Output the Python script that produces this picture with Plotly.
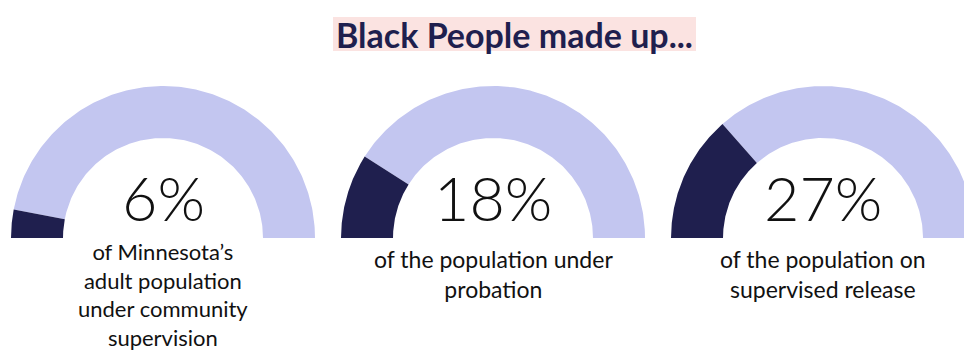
import numpy as np
import plotly.graph_objects as go

# Shares of each supervised population that are Black (percent)
shares = [6, 18, 27]
share_labels = ["6%", "18%", "27%"]
captions = [
    "of Minnesota’s<br>adult population<br>under community<br>supervision",
    "of the population under<br>probation",
    "of the population on<br>supervised release",
]
headline = "Black People made up..."

# Layout constants (canvas units = pixels, y measured upward)
W, H = 964, 352
CENTERS_X = [163, 493, 823]
BASE_Y = H - 238
R_OUT, R_IN = 152, 100
DARK = "#1f1f4e"
LIGHT = "#c3c6f0"
HIGHLIGHT = "#fbe3e1"
TEXT_FONT = "Lato"


def arc_band(cx, f0, f1, n=180):
    """Polygon of a half-ring band between fractions f0..f1 (0 = left end, 1 = right end)."""
    t = np.linspace(f0, f1, n)
    ang = np.pi * (1 - t)
    xo = cx + R_OUT * np.cos(ang)
    yo = BASE_Y + R_OUT * np.sin(ang)
    xi = cx + R_IN * np.cos(ang[::-1])
    yi = BASE_Y + R_IN * np.sin(ang[::-1])
    xs = np.concatenate([xo, xi, xo[:1]])
    ys = np.concatenate([yo, yi, yo[:1]])
    return xs, ys


fig = go.Figure()
for cx, pct in zip(CENTERS_X, shares):
    frac = pct / 100.0
    for f0, f1, col in [(frac, 1.0, LIGHT), (0.0, frac, DARK)]:
        xs, ys = arc_band(cx, f0, f1)
        fig.add_trace(go.Scatter(
            x=xs, y=ys, mode="lines", fill="toself",
            fillcolor=col, line=dict(width=0, color=col),
            hoverinfo="skip", showlegend=False,
        ))

# Highlighter band behind the headline
fig.add_shape(type="rect", xref="x", yref="y",
              x0=333, x1=696, y0=H - 51, y1=H - 17,
              fillcolor=HIGHLIGHT, line=dict(width=0), layer="below")

annotations = [
    dict(
        x=514, y=H - 34, xref="x", yref="y",
        text="<b>" + headline + "</b>", showarrow=False,
        font=dict(family=TEXT_FONT, size=34, color=DARK),
        xanchor="center", yanchor="middle",
    )
]
for i, (cx, lab, cap) in enumerate(zip(CENTERS_X, share_labels, captions)):
    annotations.append(dict(
        x=cx, y=H - 197, xref="x", yref="y", text=lab, showarrow=False,
        font=dict(family=TEXT_FONT, size=61, color="#111111", weight=300),
        xanchor="center", yanchor="middle",
    ))
    annotations.append(dict(
        x=cx, y=H - (236 if i == 0 else 243), xref="x", yref="y", text=cap,
        showarrow=False, align="center",
        font=dict(family=TEXT_FONT, size=22 if i == 0 else 23, color="#111111"),
        xanchor="center", yanchor="top",
    ))

fig.update_layout(
    width=W, height=H,
    margin=dict(l=0, r=0, t=0, b=0),
    paper_bgcolor="white", plot_bgcolor="white",
    xaxis=dict(range=[0, W], visible=False, fixedrange=True),
    yaxis=dict(range=[0, H], visible=False, fixedrange=True),
    annotations=annotations,
)

fig.write_html("out.html")
